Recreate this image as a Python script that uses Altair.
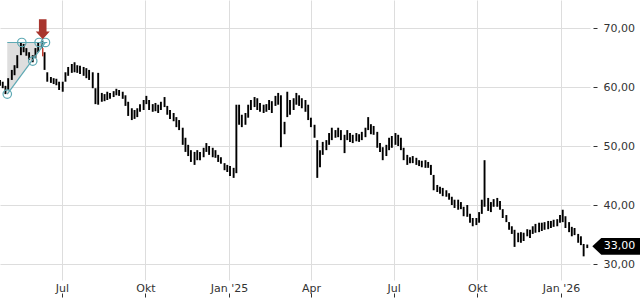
import json
import altair as alt
import pandas as pd

# ---- price bars (high / low) ----
highs = [
    61.2, 60.9, 60.2, 61.5, 62.9, 63.7, 65.4, 67.5, 67.3, 66.6,
    65.9, 65.4, 66.6, 67.6, 67.8, 65.9, 62.5, 61.7, 61.5, 61.4,
    60.9, 60.9, 62.5, 63.4, 63.9, 64.2, 63.7, 63.6, 63.4, 63.2,
    62.9, 62.5, 59.8, 62.4, 59.0, 58.8, 59.2, 59.0, 59.3, 59.7,
    59.5, 59.2, 58.6, 57.5, 56.4, 56.1, 56.4, 57.1, 57.8, 58.5,
    57.8, 57.1, 57.3, 57.0, 57.5, 58.3, 56.8, 56.1, 55.6, 54.9,
    54.4, 53.1, 51.4, 50.2, 49.3, 49.0, 49.3, 49.0, 49.7, 50.5,
    50.0, 49.7, 49.3, 48.5, 48.1, 47.1, 46.8, 46.6, 46.3, 57.0,
    57.0, 55.3, 55.6, 57.0, 57.8, 58.3, 58.1, 57.3, 57.0, 57.1,
    57.8, 57.6, 58.5, 59.0, 58.6, 54.1, 59.2, 57.8, 58.1, 59.0,
    58.6, 58.1, 57.8, 57.0, 54.8, 53.6, 51.0, 49.3, 50.7, 51.0,
    52.2, 53.1, 52.7, 53.1, 52.7, 51.9, 52.7, 52.2, 51.9, 52.2,
    52.0, 52.4, 53.1, 54.9, 53.7, 53.4, 52.4, 50.5, 49.8, 50.2,
    51.4, 51.7, 52.2, 51.9, 51.4, 49.7, 48.5, 48.1, 48.3, 48.0,
    47.6, 47.5, 47.6, 47.3, 46.8, 45.1, 43.4, 43.1, 42.9, 42.5,
    42.0, 41.4, 40.9, 40.9, 40.5, 39.7, 40.0, 38.5, 37.8, 37.8,
    38.8, 40.9, 47.6, 41.2, 40.5, 41.0, 41.2, 40.7, 39.3, 38.3,
    37.1, 36.4, 35.8, 35.3, 35.4, 35.3, 35.9, 35.8, 36.4, 36.8,
    37.0, 37.0, 37.1, 37.3, 37.3, 37.5, 37.6, 38.3, 39.2, 38.1,
    37.1, 36.3, 36.1, 35.1, 34.7, 33.4, 33.3,
]
lows = [
    60.2, 59.8, 58.8, 59.5, 61.2, 62.0, 63.2, 65.4, 65.9, 65.3,
    64.6, 64.2, 64.9, 65.9, 66.6, 62.9, 60.9, 60.7, 60.5, 60.3,
    59.5, 59.2, 60.9, 61.9, 62.4, 62.5, 62.4, 62.2, 61.9, 61.5,
    61.2, 59.8, 57.1, 57.0, 57.5, 57.6, 57.8, 58.0, 58.3, 58.6,
    58.5, 58.0, 56.8, 55.1, 54.4, 54.6, 54.9, 55.8, 56.1, 57.1,
    56.1, 55.8, 55.9, 55.6, 56.1, 56.6, 55.3, 54.6, 54.2, 53.2,
    52.7, 50.2, 49.0, 48.3, 47.3, 46.8, 47.6, 47.6, 48.1, 49.0,
    48.5, 48.1, 48.0, 47.3, 47.0, 45.9, 45.6, 44.9, 44.6, 45.4,
    53.6, 53.2, 53.6, 54.8, 56.1, 56.6, 56.1, 55.8, 55.6, 55.8,
    56.1, 55.6, 56.8, 57.0, 49.8, 52.0, 54.9, 55.3, 56.1, 57.0,
    56.8, 56.4, 55.8, 54.4, 53.2, 51.4, 44.6, 46.4, 48.5, 49.3,
    50.2, 51.0, 51.4, 51.5, 51.0, 48.8, 51.0, 50.7, 50.5, 50.8,
    50.7, 51.0, 51.5, 52.7, 52.0, 51.9, 49.7, 49.0, 47.6, 48.3,
    49.3, 49.7, 50.2, 50.0, 49.3, 47.6, 46.8, 47.1, 47.1, 46.8,
    46.6, 46.4, 46.3, 46.3, 45.1, 42.5, 42.2, 41.9, 41.5, 41.4,
    40.9, 40.0, 39.5, 39.2, 39.3, 38.1, 38.0, 37.0, 36.4, 36.6,
    37.0, 38.5, 39.7, 39.0, 38.8, 39.7, 39.7, 39.2, 37.8, 37.1,
    35.8, 35.1, 32.9, 33.7, 33.6, 33.9, 34.7, 34.4, 35.1, 35.3,
    35.4, 35.6, 35.8, 35.9, 36.1, 36.3, 36.4, 37.0, 37.1, 36.1,
    35.4, 34.7, 34.9, 33.6, 33.2, 31.3, 32.7,
]
first_day = "2024-04-24"
last_day = "2026-01-30"

# ---- triangle pattern annotation ----
pattern_dates = ["2024-05-02", "2024-05-18", "2024-05-30", "2024-06-06", "2024-06-13"]
pattern_prices = [58.8, 67.55, 64.4, 67.55, 67.55]
top_line_dates = ["2024-05-02", "2024-06-15"]
top_line_price = 67.55
diag_dates = ["2024-05-02", "2024-06-13"]
diag_prices = [58.8, 67.55]

# signal bar + arrow
signal_date = "2024-06-10"
signal_low, signal_high = 65.2, 66.6
arrow_date = "2024-06-10"
arrow_price = 69.8

last_price = 33.00

# axis ticks
y_ticks = [30, 40, 50, 60, 70]
x_tick_dates = ["2024-07-01", "2024-10-01", "2025-01-01", "2025-04-01",
                "2025-07-01", "2025-10-01", "2026-01-01"]
x_tick_labels = ["Jul", "Okt", "Jan '25", "Apr", "Jul", "Okt", "Jan '26"]

# ---------------------------------------------------------------
assert len(highs) == len(lows)
dates = pd.date_range(first_day, last_day, periods=len(highs)).strftime("%Y-%m-%d")
bars_df = pd.DataFrame({"date": list(dates), "low": lows, "high": highs})

FONT = "DejaVu Sans"
TEAL = "#5ea9b4"
GRID = "#dddddd"
TXT = "#333333"


def dt(s):
    y, m, d = (int(p) for p in s.split("-"))
    return alt.DateTime(year=y, month=m, date=d, utc=True)


expr = ""
for d, lab in zip(x_tick_dates, x_tick_labels):
    y, m, _ = (int(p) for p in d.split("-"))
    expr += f"(utcyear(datum.value)=={y} && utcmonth(datum.value)=={m-1}) ? {json.dumps(lab)} : "
expr += "''"

xscale = alt.Scale(type="utc", domain=[dt("2024-04-24"), dt("2026-02-02")])
yscale = alt.Scale(domain=[27.29, 74.75], nice=False, zero=False)

xaxis = alt.Axis(values=[dt(d) for d in x_tick_dates], labelExpr=expr, grid=True,
                 gridColor=GRID, gridWidth=1, domain=False, tickColor=TXT, tickSize=4,
                 offset=13, labelPadding=-15, labelFont=FONT, labelFontSize=11,
                 labelColor=TXT, title=None, labelOverlap=False)
yaxis = alt.Axis(orient="right", values=y_ticks,
                 labelExpr="replace(format(datum.value, '.2f'), '.', ',')",
                 grid=True, gridColor=GRID, gridWidth=1, domain=False, tickSize=4,
                 offset=3, labelPadding=6, tickColor=TXT, labelColor=TXT,
                 labelFont=FONT, labelFontSize=11, title=None)


def X(field):
    return alt.X(field, scale=xscale, axis=xaxis)


def Y(field):
    return alt.Y(field, scale=yscale, axis=yaxis)


bars = alt.Chart(bars_df).mark_rule(color="black", strokeWidth=1.9).encode(
    x=X("date:T"), y=Y("low:Q"), y2="high:Q",
)

tri_df = pd.DataFrame({"date": diag_dates, "top": [top_line_price] * 2, "bot": diag_prices})
tri = alt.Chart(tri_df).mark_area(color="#dedede", opacity=1).encode(
    x=X("date:T"), y=Y("top:Q"), y2="bot:Q",
)

lines_df = pd.DataFrame({
    "date": top_line_dates + diag_dates,
    "v": [top_line_price] * 2 + diag_prices,
    "seg": ["top", "top", "diag", "diag"],
})
lines = alt.Chart(lines_df).mark_line(color=TEAL, strokeWidth=1.2).encode(
    x=X("date:T"), y=Y("v:Q"), detail="seg:N",
)

circ_df = pd.DataFrame({"date": pattern_dates, "v": pattern_prices})
circles = alt.Chart(circ_df).mark_point(shape="circle", filled=False, color=TEAL,
                                        size=72, strokeWidth=1.2, opacity=1).encode(
    x=X("date:T"), y=Y("v:Q"),
)

sig_df = pd.DataFrame({"date": [signal_date], "low": [signal_low], "high": [signal_high]})
sig = alt.Chart(sig_df).mark_rule(color="#c0392b", strokeWidth=1.5).encode(
    x=X("date:T"), y=Y("low:Q"), y2="high:Q",
)

arrow_df = pd.DataFrame({"date": [arrow_date], "v": [arrow_price]})
arrow = alt.Chart(arrow_df).mark_point(
    shape="M-0.38,-1 L0.38,-1 L0.38,0.24 L0.7,0.24 L0,1 L-0.7,0.24 L-0.38,0.24 Z",
    filled=True, color="#a8352e", size=400, opacity=1, strokeWidth=0,
).encode(x=X("date:T"), y=Y("v:Q"))

tag_df = pd.DataFrame({"v": [last_price],
                       "label": [f"{last_price:.2f}".replace(".", ",")]})
tag = alt.Chart(tag_df).mark_point(
    shape="M-1,0 L-0.625,-0.347 L1,-0.347 L1,0.347 L-0.625,0.347 Z",
    filled=True, color="black", size=2304, opacity=1, strokeWidth=0,
).encode(x=alt.value(616.3), y=Y("v:Q"))
tag_text = alt.Chart(tag_df).mark_text(
    color="white", font=FONT, fontSize=11, align="center", baseline="middle",
).encode(x=alt.value(619.5), y=Y("v:Q"), text="label:N")

chart = alt.layer(tri, bars, sig, lines, circles, arrow, tag, tag_text).properties(
    width=590, height=280,
    autosize=alt.AutoSizeParams(type="none"),
    padding={"left": 0, "top": 0, "right": 50, "bottom": 20},
    background="white",
).configure_view(stroke=None)

chart.save("out.html", embed_options={"renderer": "svg", "actions": False})
